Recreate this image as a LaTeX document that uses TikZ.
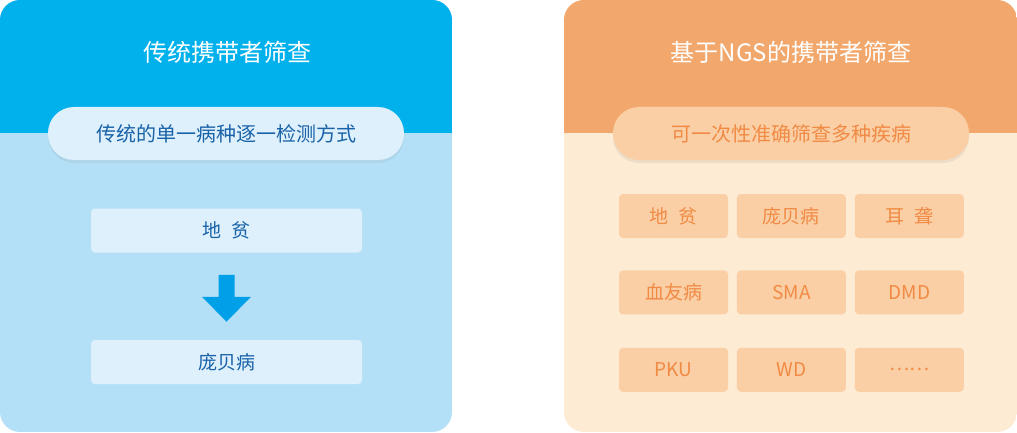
\documentclass[tikz,border=0pt]{standalone}
\usepackage{fontspec}
\newfontfamily\cjk{Noto Sans CJK SC}
\usetikzlibrary{positioning}
\usetikzlibrary{calc,shadows}
\definecolor{bluetop}{RGB}{0,177,236}
\definecolor{bluelight}{RGB}{180,224,247}
\definecolor{bluepale}{RGB}{222,240,252}
\definecolor{bluetext}{RGB}{24,98,168}
\definecolor{bluearrow}{RGB}{0,160,233}
\definecolor{orangetop}{RGB}{242,168,108}
\definecolor{orangelight}{RGB}{253,235,211}
\definecolor{orangepale}{RGB}{251,207,165}
\definecolor{orangetext}{RGB}{240,138,68}

\begin{document}
\begin{tikzpicture}[x=1pt,y=-1pt,
titlenode/.style={text=white, font=\cjk\fontsize{24pt}{24pt}\selectfont},
pillnode/.style={rectangle, rounded corners=26pt, minimum width=356pt, minimum height=53pt,
  font=\cjk\fontsize{20pt}{20pt}\selectfont,
  drop shadow={opacity=0.12, shadow xshift=0pt, shadow yshift=-3pt}},
boxnode/.style={rectangle, rounded corners=4pt, minimum height=44pt,
  font=\cjk\fontsize{19pt}{19pt}\selectfont},
leftbox/.style={boxnode, fill=bluepale, text=bluetext, minimum width=271pt},
gridbox/.style={boxnode, fill=orangepale, text=orangetext, minimum width=109pt},
]
\useasboundingbox (0,0) rectangle (1017,433);

%Panels
\begin{scope}
\clip[rounded corners=20pt] (0,0) rectangle (452,432);
\fill[bluelight] (0,0) rectangle (452,432);
\fill[bluetop] (0,0) rectangle (452,133);
\end{scope}
\begin{scope}
\clip[rounded corners=20pt] (564,0) rectangle (1017,432);
\fill[orangelight] (564,0) rectangle (1017,432);
\fill[orangetop] (564,0) rectangle (1017,133);
\end{scope}

%Nodes
\node[titlenode]   (ltitle) at (227,52)   {传统携带者筛查};
\node[pillnode, fill=bluepale, text=bluetext] (lpill) at (226,133.5) {传统的单一病种逐一检测方式};
\node[leftbox]     (dp)     at (226.5,230.5) {地\hspace{0.5em}贫};
\node[leftbox]     (pb)     at (226.5,362)   {庞贝病};

\node[titlenode]   (rtitle) at (791,52)   {基于NGS的携带者筛查};
\node[pillnode, fill=orangepale, text=orangetext] (rpill) at (791,133.5) {可一次性准确筛查多种疾病};
\node[gridbox]     (g11)    at (673.5,216) {地\hspace{0.5em}贫};
\node[gridbox]     (g12)    [right=8.5pt of g11] {庞贝病};
\node[gridbox]     (g13)    [right=8.5pt of g12] {耳\hspace{0.5em}聋};
\node[gridbox]     (g21)    [below=32pt of g11] {血友病};
\node[gridbox]     (g22)    [right=8.5pt of g21] {SMA};
\node[gridbox]     (g23)    [right=8.5pt of g22] {DMD};
\node[gridbox]     (g31)    [below=33pt of g21] {PKU};
\node[gridbox]     (g32)    [right=8.5pt of g31] {WD};
\node[gridbox]     (g33)    [right=8.5pt of g32] {……};

%Lines
\coordinate (arr) at ($(dp.south)!0.5!(pb.north)+(0,2)$);
\fill[bluearrow] ($(arr)+(-8,-23.5)$) -- ($(arr)+(8,-23.5)$) -- ($(arr)+(8,-1.5)$)
  -- ($(arr)+(24.5,-1.5)$) -- ($(arr)+(0,23.5)$) -- ($(arr)+(-24.5,-1.5)$)
  -- ($(arr)+(-8,-1.5)$) -- cycle;
\end{tikzpicture}
\end{document}
